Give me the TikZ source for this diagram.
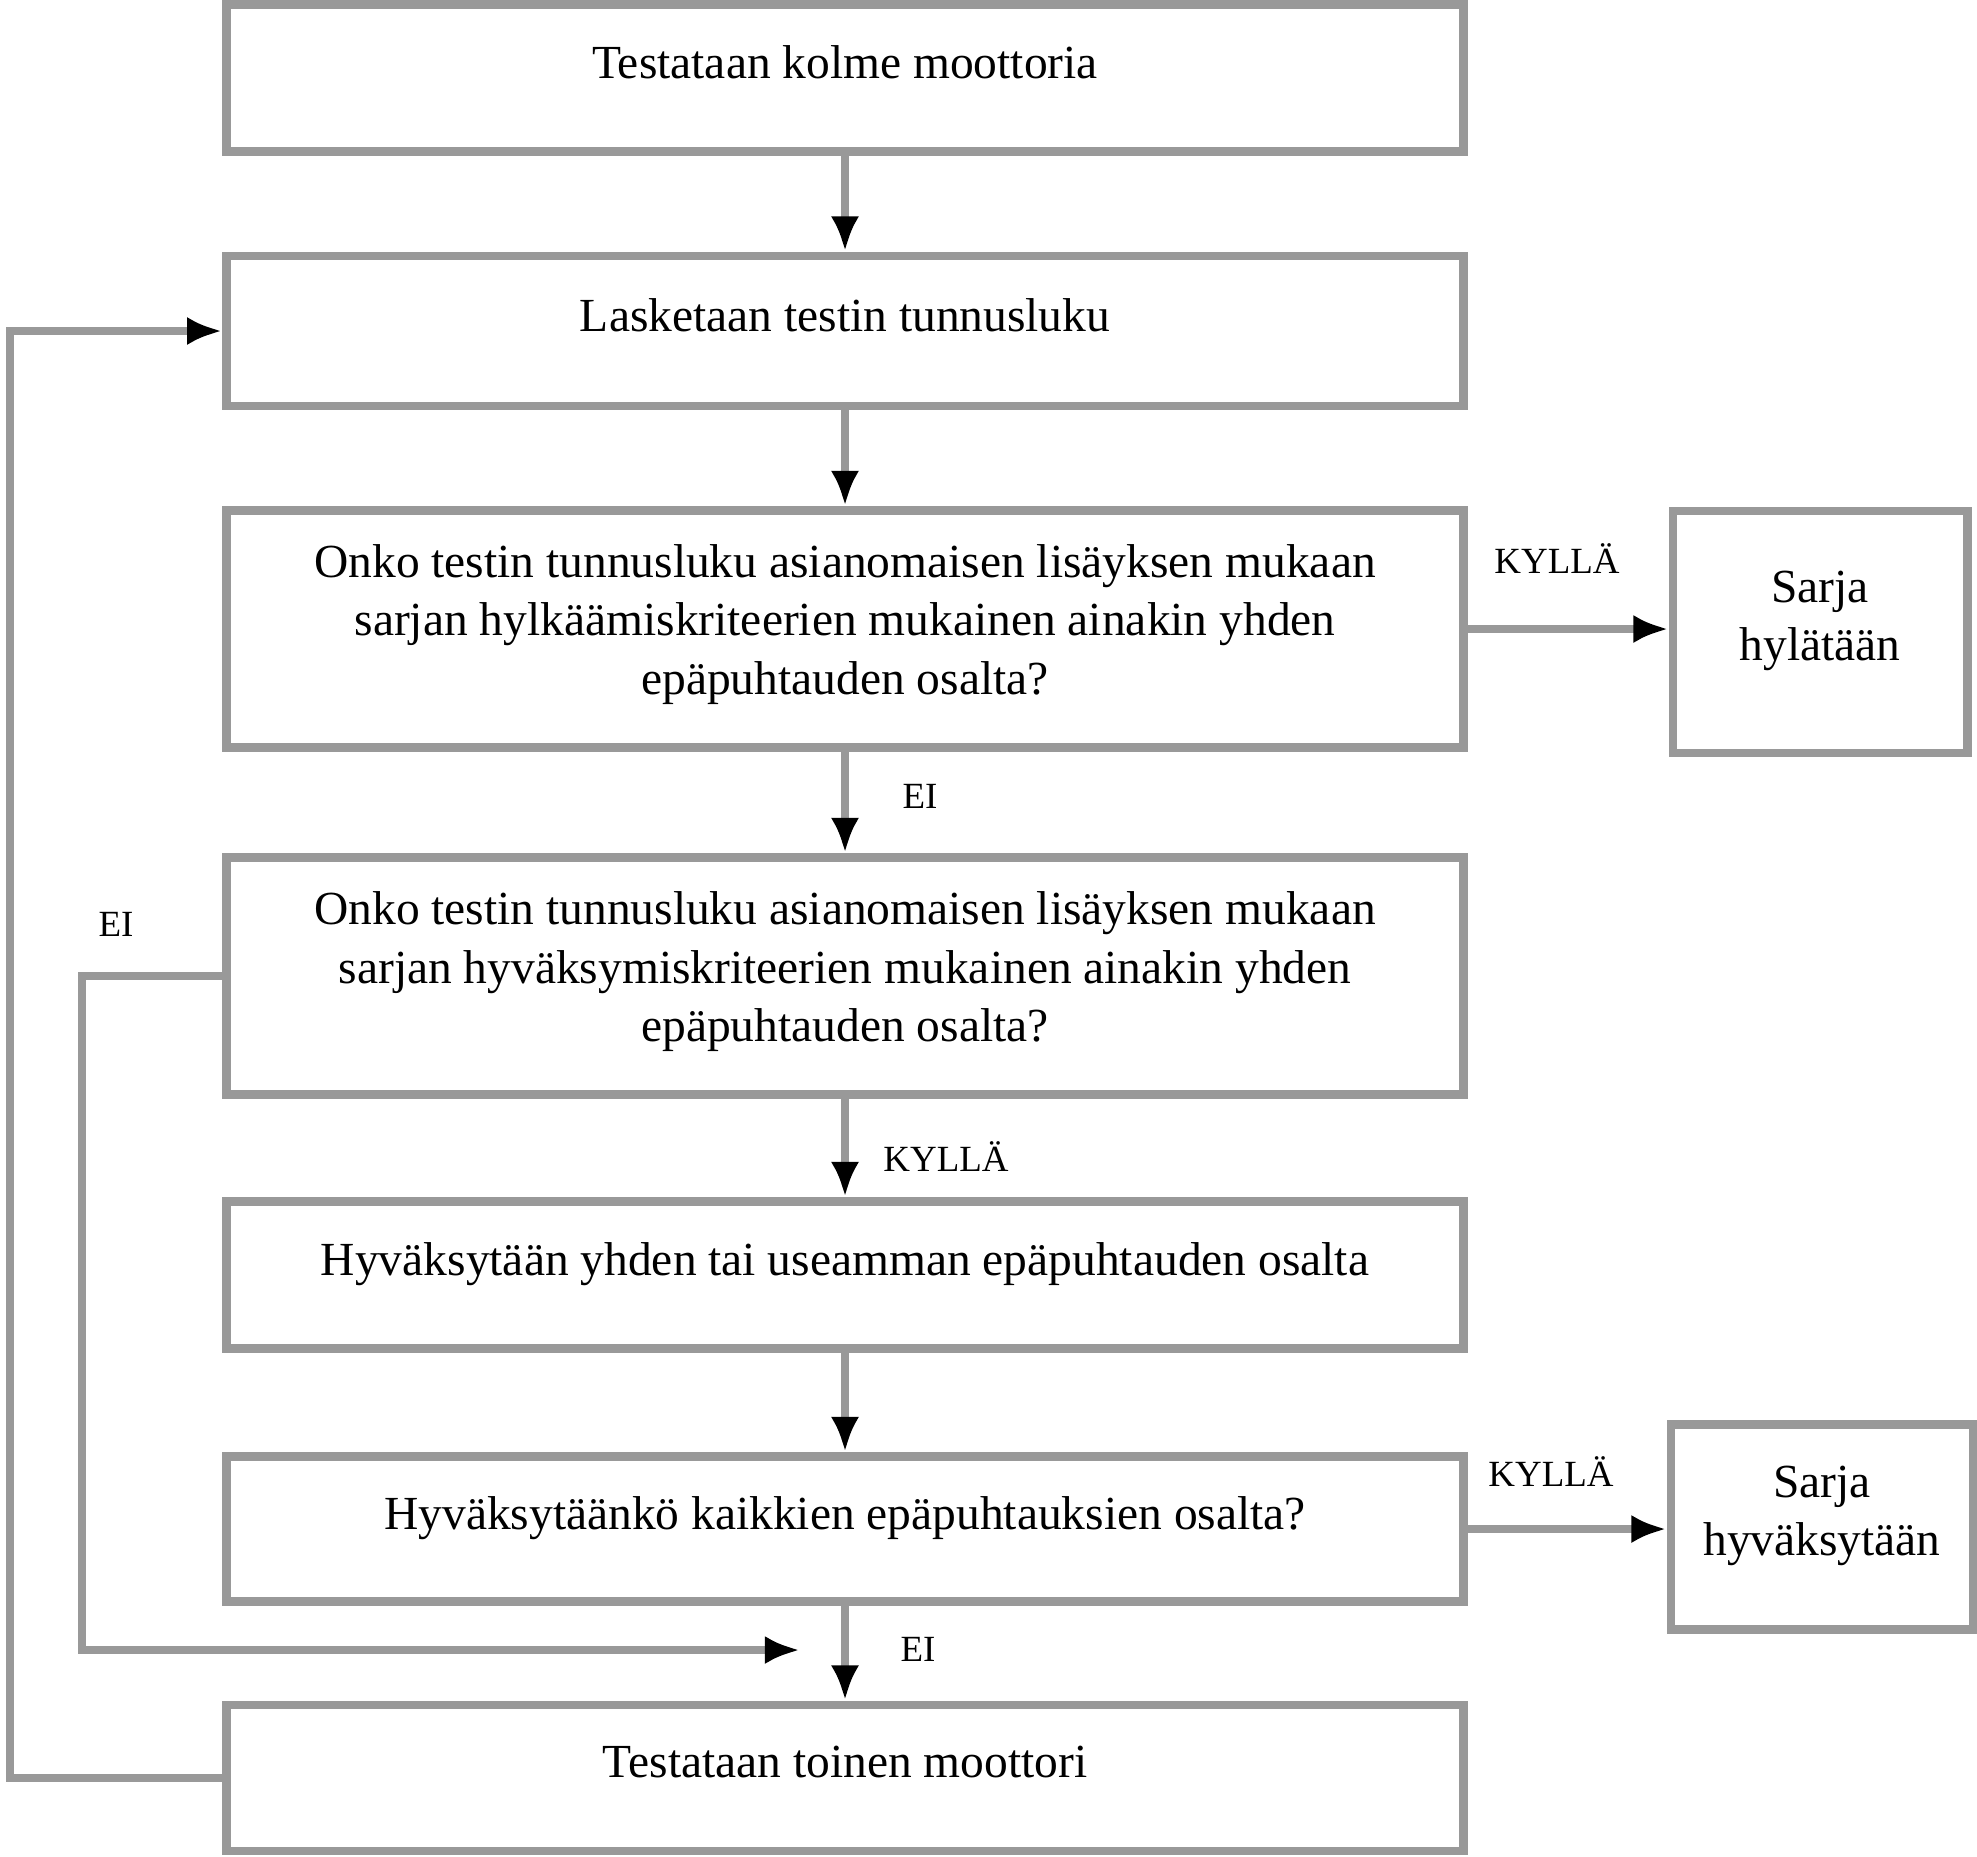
\documentclass[tikz,border=0pt]{standalone}
\usepackage{fontspec}
\setmainfont{Liberation Serif}
\usetikzlibrary{arrows.meta,calc}
\definecolor{LineClr}{gray}{0.6}

\begin{document}
\begin{tikzpicture}[x=0.01cm,y=-0.01cm,
  box/.style={draw=LineClr,line width=2.5pt,minimum width=12.36cm,align=center,
    text depth=0.32cm,font=\fontsize{13.5}{16.6}\selectfont},
  tallbox/.style={box,minimum height=2.37cm,text depth=0.19cm},
  sidebox/.style={box,minimum width=2.94cm},
  flow/.style={draw=LineClr,line width=2.5pt,-{Latex[color=black,length=10pt,width=8pt]}},
  answer/.style={font=\fontsize{10.5}{12}\selectfont}]
\useasboundingbox (0,0) rectangle (1977,1856);

% main column
\node[box,minimum height=1.47cm] (test3) at (845,78) {Testataan kolme moottoria};
\node[box,minimum height=1.50cm] (calc) at (845,331) {Lasketaan testin tunnusluku};
\node[tallbox] (reject) at (845,629)
  {Onko testin tunnusluku asianomaisen lisäyksen mukaan\\
   sarjan hylkäämiskriteerien mukainen ainakin yhden\\
   epäpuhtauden osalta?};
\node[tallbox] (accept) at (845,976)
  {Onko testin tunnusluku asianomaisen lisäyksen mukaan\\
   sarjan hyväksymiskriteerien mukainen ainakin yhden\\
   epäpuhtauden osalta?};
\node[box,minimum height=1.47cm] (accone) at (845,1275) {Hyväksytään yhden tai useamman epäpuhtauden osalta};
\node[box,minimum height=1.45cm] (accall) at (845,1529) {Hyväksytäänkö kaikkien epäpuhtauksien osalta?};
\node[box,minimum height=1.46cm] (test2) at (845,1778) {Testataan toinen moottori};

% results
\node[sidebox,minimum height=2.42cm] (rejected) at (1820,632) {Sarja\\hylätään};
\node[sidebox,minimum width=3.02cm,minimum height=2.05cm] (accepted) at (1822,1527) {Sarja\\hyväksytään};

% answers
\node[answer] (yes1) at (1557,559) {KYLLÄ};
\node[answer] (no1) at (920,796) {EI};
\node[answer] (no2) at (116,924) {EI};
\node[answer] (yes2) at (946,1157) {KYLLÄ};
\node[answer] (yes3) at (1551,1471) {KYLLÄ};
\node[answer] (no3) at (918,1649) {EI};

\coordinate (leftx) at (10,0);
\coordinate (eix) at (82,0);
\coordinate (merge) at (800,1650);

% arrows
\draw[flow] (test3) -- (calc);
\draw[flow] (calc) -- (reject);
\draw[flow] (reject) -- (accept);
\draw[flow] (accept) -- (accone);
\draw[flow] (accone) -- (accall);
\draw[flow] (accall) -- (test2);
\draw[flow] (reject.east) -- (reject.east -| rejected.west);
\draw[flow] (accall.east) -- (accall.east -| accepted.west);
\draw[flow] (test2.west) -| (leftx |- calc.west) -- (calc.west);
\draw[flow] (accept.west) -| (eix |- merge) -- (merge);

\end{tikzpicture}
\end{document}
